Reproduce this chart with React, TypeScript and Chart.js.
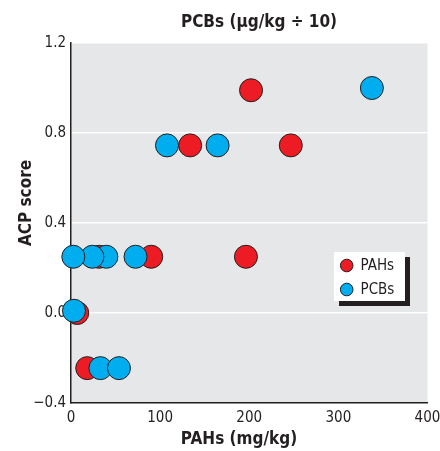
import React, { useEffect, useRef } from "react";
import { Chart, registerables } from "chart.js";

Chart.register(...registerables);

const pahX = [202, 133.7, 246.6, 196.3, 90, 31.6, 7, 18.2];
const pahY = [0.99, 0.745, 0.745, 0.25, 0.25, 0.25, 0.0, -0.245];
const pcbX = [337.6, 107.7, 164.5, 72.4, 39.7, 24, 2.6, 3.3, 33, 53.8];
const pcbY = [1.0, 0.745, 0.745, 0.25, 0.25, 0.25, 0.25, 0.01, -0.245, -0.245];

const seriesNames = ["PAHs", "PCBs"];
const seriesColors = ["#ED1C24", "#00AEEF"];
const xTicks = [0, 100, 200, 300, 400];
const yTicks = [-0.4, 0, 0.4, 0.8, 1.2];
const yTickLabels = ["\u22120.4", "0.0", "0.4", "0.8", "1.2"];
const topTitle = "PCBs (\u03bcg/kg \u00f7 10)";
const xTitle = "PAHs (mg/kg)";
const yTitle = "ACP score";

const FONT = '"DejaVu Sans Condensed", "Liberation Sans Narrow", "Liberation Sans", sans-serif';
const INK = "#231F20";

export default function App() {
  const ref = useRef<HTMLCanvasElement | null>(null);
  useEffect(() => {
    if (!ref.current) return;
    const toPts = (xs: number[], ys: number[]) => xs.map((x, i) => ({ x, y: ys[i] }));
    const bgPlugin = {
      id: "bg",
      beforeDraw(chart: any) {
        const { ctx, chartArea: a } = chart;
        ctx.save();
        ctx.fillStyle = "#E6E7E8";
        ctx.fillRect(a.left, a.top, a.right - a.left, a.bottom - a.top);
        ctx.restore();
      },
      afterDraw(chart: any) {
        const { ctx } = chart;
        ctx.save();
        ctx.fillStyle = INK;
        ctx.font = `bold 17px ${FONT}`;
        ctx.textAlign = "center";
        ctx.textBaseline = "middle";
        ctx.fillText(topTitle, 259, 23);
        ctx.fillText(xTitle, 239, 440);
        ctx.save();
        ctx.translate(27, 203);
        ctx.rotate(-Math.PI / 2);
        ctx.fillText(yTitle, 0, 0);
        ctx.restore();
        // legend
        const lx = 334, ly = 252, lw = 71, lh = 49;
        ctx.fillStyle = INK;
        ctx.fillRect(lx + 5, ly + 5, lw, lh);
        ctx.fillStyle = "#FFFFFF";
        ctx.fillRect(lx, ly, lw, lh);
        ctx.font = `15px ${FONT}`;
        ctx.textAlign = "left";
        seriesNames.forEach((name, i) => {
          const cy = 265.5 + i * 24;
          ctx.beginPath();
          ctx.arc(346.7, cy, 6.3, 0, Math.PI * 2);
          ctx.fillStyle = seriesColors[i];
          ctx.fill();
          ctx.lineWidth = 1;
          ctx.strokeStyle = INK;
          ctx.stroke();
          ctx.fillStyle = INK;
          ctx.fillText(name, 360.5, cy + 0.5);
        });
        ctx.restore();
      },
    };
    const chart = new Chart(ref.current, {
      type: "scatter",
      data: {
        datasets: [
          {
            label: seriesNames[0],
            data: toPts(pahX, pahY),
            backgroundColor: seriesColors[0],
            borderColor: INK,
            borderWidth: 1,
            pointRadius: 11.5,
            pointHoverRadius: 11.5,
            clip: false as any,
            order: 2,
          },
          {
            label: seriesNames[1],
            data: toPts(pcbX, pcbY),
            backgroundColor: seriesColors[1],
            borderColor: INK,
            borderWidth: 1,
            pointRadius: 11.5,
            pointHoverRadius: 11.5,
            clip: false as any,
            order: 1,
          },
        ],
      },
      options: {
        responsive: false,
        animation: false,
        events: [],
        layout: { padding: { top: 43, right: 8, left: 0, bottom: 0 } },
        plugins: { legend: { display: false }, tooltip: { enabled: false }, title: { display: false } },
        scales: {
          x: {
            type: "linear",
            min: 0,
            max: 400,
            afterBuildTicks: (s: any) => { s.ticks = xTicks.map((v) => ({ value: v })); },
            afterFit: (s: any) => { s.height = 48; s.paddingLeft = 0; s.paddingRight = 0; },
            grid: { display: false, drawTicks: false },
            border: { display: true, color: INK, width: 1.5 },
            ticks: { color: INK, font: { family: FONT, size: 15 }, padding: 6, maxRotation: 0 },
          },
          y: {
            type: "linear",
            min: -0.4,
            max: 1.2,
            afterBuildTicks: (s: any) => { s.ticks = yTicks.map((v) => ({ value: v })); },
            afterFit: (s: any) => { s.width = 71; s.paddingTop = 0; s.paddingBottom = 0; },
            grid: { color: "#FFFFFF", lineWidth: 1.5, drawTicks: false },
            border: { display: true, color: INK, width: 1.5 },
            ticks: {
              color: INK,
              font: { family: FONT, size: 15 },
              padding: 5,
              callback: (v: any) => {
                const i = yTicks.findIndex((t) => Math.abs(t - Number(v)) < 1e-6);
                return i >= 0 ? yTickLabels[i] : "";
              },
            },
          },
        },
      },
      plugins: [bgPlugin],
    } as any);
    return () => chart.destroy();
  }, []);
  return (
    <div style={{ position: "fixed", left: 0, top: 0, width: 440, height: 451, background: "#fff" }}>
      <canvas ref={ref} width={440} height={451} style={{ display: "block" }} />
    </div>
  );
}
